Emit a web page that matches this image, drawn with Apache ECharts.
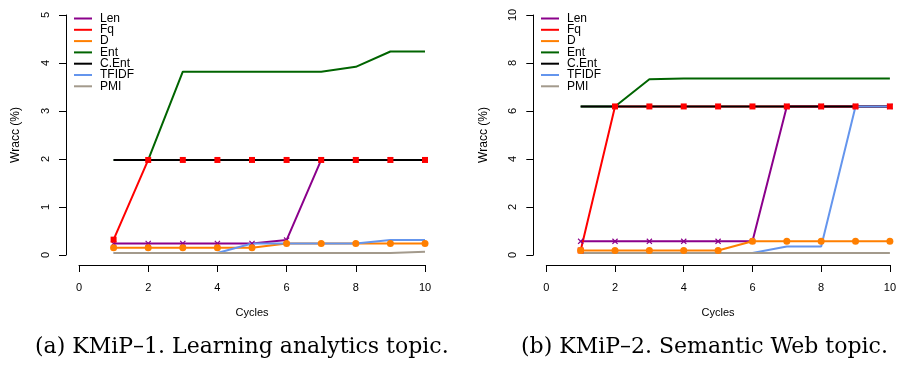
<!DOCTYPE html>
<html><head><meta charset="utf-8">
<script src="https://cdn.jsdelivr.net/npm/echarts@6/dist/echarts.min.js"></script>
<style>html,body{margin:0;padding:0;background:#fff}#c{width:899px;height:365px}</style>
</head><body><div id="c"></div>
<script>
const cycles = [1,2,3,4,5,6,7,8,9,10];
const names = ['Len','Fq','D','Ent','C.Ent','TFIDF','PMI'];
const colors = ['#8B008B','#FF0000','#FF7F00','#006400','#000000','#6495ED','#A39A8C'];
// Panel (a) KMiP-1
const a_Len   = [0.24,0.24,0.24,0.24,0.24,0.31,1.98,1.98,1.98,1.98];
const a_Fq    = [0.32,1.98,1.98,1.98,1.98,1.98,1.98,1.98,1.98,1.98];
const a_D     = [0.15,0.15,0.15,0.15,0.15,0.24,0.24,0.24,0.24,0.24];
const a_Ent   = [1.98,1.98,3.82,3.82,3.82,3.82,3.82,3.92,4.24,4.24];
const a_CEnt  = [1.98,1.98,1.98,1.98,1.98,1.98,1.98,1.98,1.98,1.98];
const a_TFIDF = [0.04,0.04,0.04,0.04,0.24,0.24,0.24,0.24,0.31,0.31];
const a_PMI   = [0.04,0.04,0.04,0.04,0.04,0.04,0.04,0.04,0.04,0.07];
// Panel (b) KMiP-2
const b_Len   = [0.57,0.57,0.57,0.57,0.57,0.57,6.19,6.19,6.19,6.19];
const b_Fq    = [0.19,6.19,6.19,6.19,6.19,6.19,6.19,6.19,6.19,6.19];
const b_D     = [0.19,0.19,0.19,0.19,0.19,0.57,0.57,0.57,0.57,0.57];
const b_Ent   = [6.19,6.19,7.32,7.35,7.35,7.35,7.35,7.35,7.35,7.35];
const b_CEnt  = [6.19,6.19,6.19,6.19,6.19,6.19,6.19,6.19,6.19,6.19];
const b_TFIDF = [0.08,0.08,0.08,0.08,0.08,0.08,0.35,0.35,6.19,6.19];
const b_PMI   = [0.08,0.08,0.08,0.08,0.08,0.08,0.08,0.08,0.08,0.08];
const captions = ['(a) KMiP\u20131. Learning analytics topic.','(b) KMiP\u20132. Semantic Web topic.'];

const panels = [
  {vals:[a_Len,a_Fq,a_D,a_Ent,a_CEnt,a_TFIDF,a_PMI], ymax:5, yint:1, left:79, legLeft:74},
  {vals:[b_Len,b_Fq,b_D,b_Ent,b_CEnt,b_TFIDF,b_PMI], ymax:10, yint:2, left:546.3, legLeft:541}
];
const SANS = 'Liberation Sans';
const xMark = 'path://M0,1.4L1.4,0L5,3.6L8.6,0L10,1.4L6.4,5L10,8.6L8.6,10L5,6.4L1.4,10L0,8.6L3.6,5Z';
const markers = {0:{symbol:xMark,size:6},1:{symbol:'rect',size:6},2:{symbol:'circle',size:7}};

const grid=[],xAxis=[],yAxis=[],series=[],legend=[];
panels.forEach((p,pi)=>{
  grid.push({left:p.left, top:15, width:346, height:240});
  xAxis.push({type:'value', gridIndex:pi, min:0, max:10, interval:2, offset:10,
    axisLine:{show:true,onZero:false,lineStyle:{color:'#000',width:1}},
    axisTick:{show:true,length:7,lineStyle:{color:'#000'}},
    axisLabel:{margin:17,color:'#000',fontFamily:SANS,fontSize:11,showMinLabel:true,showMaxLabel:true},
    splitLine:{show:false},
    name:'Cycles', nameLocation:'middle', nameGap:42,
    nameTextStyle:{color:'#000',fontFamily:SANS,fontSize:11}});
  yAxis.push({type:'value', gridIndex:pi, min:0, max:p.ymax, interval:p.yint, offset:13,
    axisLine:{show:true,onZero:false,lineStyle:{color:'#000',width:1}},
    axisTick:{show:true,length:7,lineStyle:{color:'#000'}},
    axisLabel:{margin:15,rotate:90,color:'#000',fontFamily:SANS,fontSize:11,showMinLabel:true,showMaxLabel:true},
    splitLine:{show:false},
    name:'Wracc (%)', nameLocation:'middle', nameGap:44,
    nameTextStyle:{color:'#000',fontFamily:SANS,fontSize:12}});
  p.vals.forEach((arr,si)=>{
    const data = cycles.map((c,i)=>[c,arr[i]]);
    series.push({type:'line', name:names[si], xAxisIndex:pi, yAxisIndex:pi, data,
      showSymbol:false, symbol:'none', z:2+si*0.01, color:colors[si],
      lineStyle:{width:2,color:colors[si]}, silent:true});
    if (markers[si]) {
      series.push({type:'scatter', name:names[si]+'_pts'+pi, xAxisIndex:pi, yAxisIndex:pi, data,
        symbol:markers[si].symbol, symbolSize:markers[si].size, z:5,
        itemStyle:{color:colors[si],opacity:1}, silent:true});
    }
  });
  legend.push({orient:'vertical', left:p.legLeft, top:12.5, padding:0, itemGap:-0.7,
    icon:'rect', itemWidth:18, itemHeight:2, data:names, selectedMode:false,
    textStyle:{color:'#000',fontFamily:SANS,fontSize:12,lineHeight:10.6,padding:[0,0,0,3]}});
});

const chart = echarts.init(document.getElementById('c'),null,{renderer:'canvas'});
chart.setOption({
  animation:false, backgroundColor:'#fff',
  grid, xAxis, yAxis, series, legend,
  graphic:[
    {type:'text', x:35, y:347, style:{text:captions[0], font:'22px "DejaVu Serif"', fill:'#000', verticalAlign:'middle'}},
    {type:'text', x:521, y:347, style:{text:captions[1], font:'22px "DejaVu Serif"', fill:'#000', verticalAlign:'middle'}}
  ]
});
</script></body></html>
